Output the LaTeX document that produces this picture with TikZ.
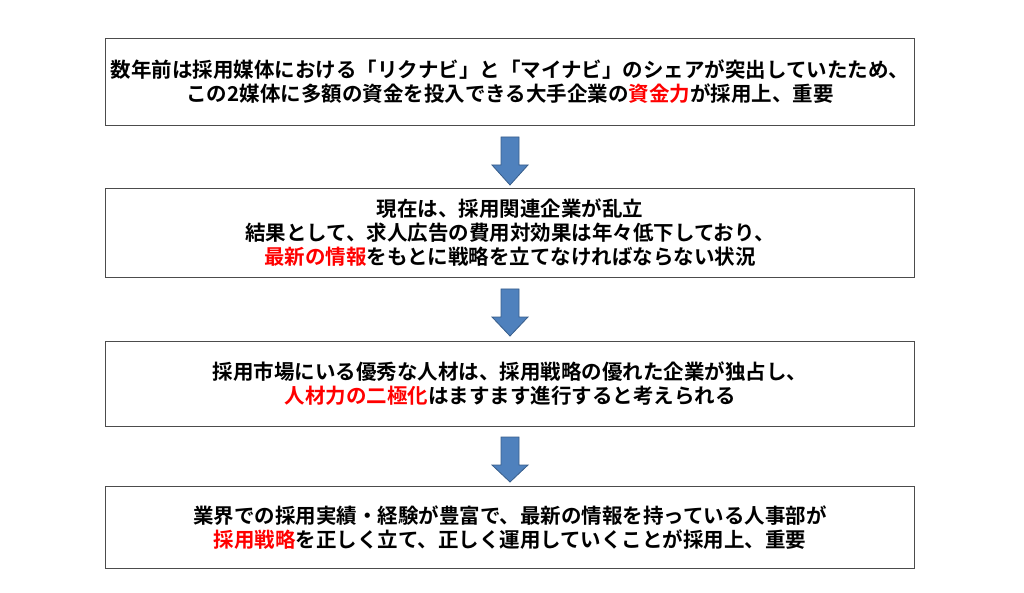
\documentclass[tikz,border=0pt]{standalone}
\usepackage{fontspec}
\newfontfamily\jp{Noto Sans CJK JP}[BoldFont={* Bold}]
\definecolor{arr}{RGB}{79,129,189}
\definecolor{arrb}{RGB}{56,93,138}
\begin{document}
\begin{tikzpicture}[x=1pt,y=-1pt,
  box/.style={draw=black!70,line width=0.8pt,fill=white},
  txt/.style={align=center,font=\jp\bfseries\fontsize{20.5}{24}\selectfont},
  red/.style={text=red}]
\useasboundingbox (0,0) rectangle (1024,593);
\def\arrowdown#1#2{\fill[arr,draw=arrb,line width=0.8pt] (501,#1) -- (519,#1) -- (519,#1+28) -- (528,#1+28) -- (510,#2) -- (492,#1+28) -- (501,#1+28) -- cycle;}
\draw[box] (105,38) rectangle (914,125); \coordinate (b1) at (510,82);
\draw[box] (105,188) rectangle (914,277); \coordinate (b2) at (510,233);
\draw[box] (105,341) rectangle (914,426); \coordinate (b3) at (510,384);
\draw[box] (105,486) rectangle (914,568); \coordinate (b4) at (510,528);
\node[txt] (t1) at (b1) {数年前は採用媒体における「リクナビ」と「マイナビ」のシェアが突出していたため、\\この2媒体に多額の資金を投入できる大手企業の\textcolor{red}{資金力}が採用上、重要};
\node[txt] (t2) at (b2) {現在は、採用関連企業が乱立\\結果として、求人広告の費用対効果は年々低下しており、\\\textcolor{red}{最新の情報}をもとに戦略を立てなければならない状況};
\node[txt] (t3) at (b3) {採用市場にいる優秀な人材は、採用戦略の優れた企業が独占し、\\\textcolor{red}{人材力の二極化}はますます進行すると考えられる};
\node[txt] (t4) at (b4) {業界での採用実績・経験が豊富で、最新の情報を持っている人事部が\\\textcolor{red}{採用戦略}を正しく立て、正しく運用していくことが採用上、重要};
\arrowdown{137}{185}
\arrowdown{289}{336}
\arrowdown{437}{482}
\end{tikzpicture}
\end{document}
